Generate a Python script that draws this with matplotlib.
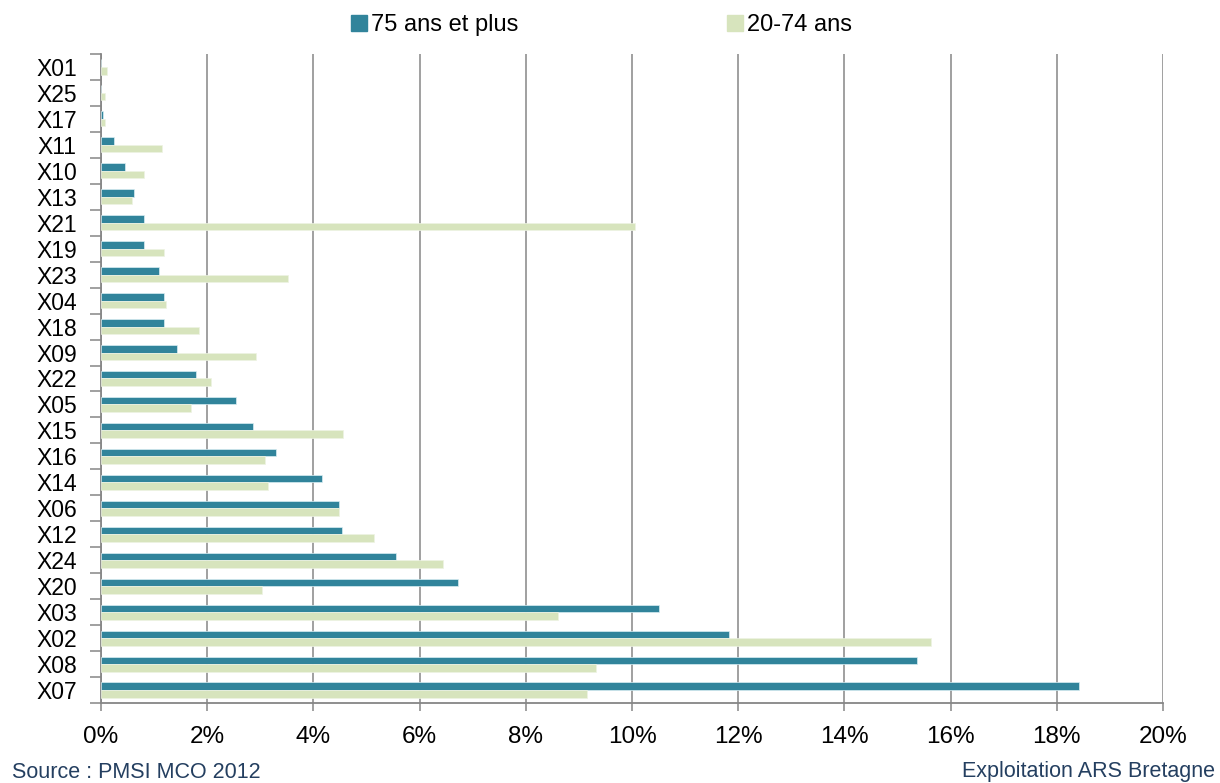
import matplotlib.pyplot as plt
from matplotlib.patches import Patch
from matplotlib.ticker import FixedLocator, FuncFormatter

plt.rcParams['font.family'] = ['Liberation Sans', 'DejaVu Sans']

categories = ['X01', 'X25', 'X17', 'X11', 'X10', 'X13', 'X21', 'X19', 'X23', 'X04',
              'X18', 'X09', 'X22', 'X05', 'X15', 'X16', 'X14', 'X06', 'X12', 'X24',
              'X20', 'X03', 'X02', 'X08', 'X07']

# parts in percent
plus75 = [0.0, 0.0, 0.04, 0.24, 0.46, 0.62, 0.81, 0.81, 1.09, 1.19,
          1.19, 1.44, 1.78, 2.54, 2.86, 3.30, 4.17, 4.49, 4.53, 5.56,
          6.72, 10.50, 11.83, 15.36, 18.42]
age20_74 = [0.11, 0.08, 0.08, 1.15, 0.81, 0.58, 10.06, 1.18, 3.52, 1.22,
            1.85, 2.92, 2.07, 1.69, 4.55, 3.08, 3.14, 4.49, 5.15, 6.44,
            3.04, 8.60, 15.64, 9.33, 9.15]

blue = '#31849B'
green = '#D7E4BD'
grey = '#868686'
navy = '#243F60'

fig = plt.figure(figsize=(12.2, 7.83), dpi=100)
ax = fig.add_axes([101 / 1220, 1 - 703 / 783, 1062 / 1220, 649 / 783])

y = range(len(categories))
h = 0.29
ax.barh([i - h / 2 for i in y], plus75, height=h, color=blue, edgecolor='#DAEEF3',
        linewidth=0.5, zorder=3)
ax.barh([i + h / 2 for i in y], age20_74, height=h, color=green, edgecolor='#EEF3E3',
        linewidth=0.5, zorder=3)

ax.set_xlim(0, 20)
ax.set_ylim(len(categories) - 0.5, -0.5)

ax.set_xticks(range(0, 21, 2))
ax.xaxis.set_major_formatter(FuncFormatter(lambda v, p: f'{v:.0f}%'))
ax.tick_params(axis='x', length=6, width=1.1, color=grey, pad=10.5, labelsize=17.5)

# category separators as major ticks, labels on minor ticks
ax.yaxis.set_major_locator(FixedLocator([i - 0.5 for i in range(len(categories) + 1)]))
ax.yaxis.set_minor_locator(FixedLocator(list(y)))
ax.set_yticklabels([], minor=False)
ax.set_yticklabels(categories, minor=True)
ax.tick_params(axis='y', which='major', length=8, width=1.1, color=grey)
ax.tick_params(axis='y', which='minor', length=0, pad=17.3, labelsize=16.5)

ax.grid(axis='x', color=grey, linewidth=1.1, zorder=0)
for side in ['top', 'right']:
    ax.spines[side].set_visible(False)
for side in ['left', 'bottom']:
    ax.spines[side].set_color(grey)
    ax.spines[side].set_linewidth(1.3)

handles = [Patch(color=blue, label='75 ans et plus'), Patch(color=green, label='20-74 ans')]
fig.legend(handles=handles, loc='center', bbox_to_anchor=(0.493, 0.968), ncol=2,
           frameon=False, fontsize=17, handlelength=0.68, handleheight=0.68,
           handletextpad=0.18, columnspacing=8.8, borderaxespad=0)

fig.text(12 / 1220, 1 - 772 / 783, 'Source : PMSI MCO 2012', fontsize=15.5,
         color=navy, ha='left', va='center')
fig.text(1215 / 1220, 1 - 772 / 783, 'Exploitation ARS Bretagne', fontsize=15.5,
         color=navy, ha='right', va='center')

fig.savefig('out.png', dpi=100)
